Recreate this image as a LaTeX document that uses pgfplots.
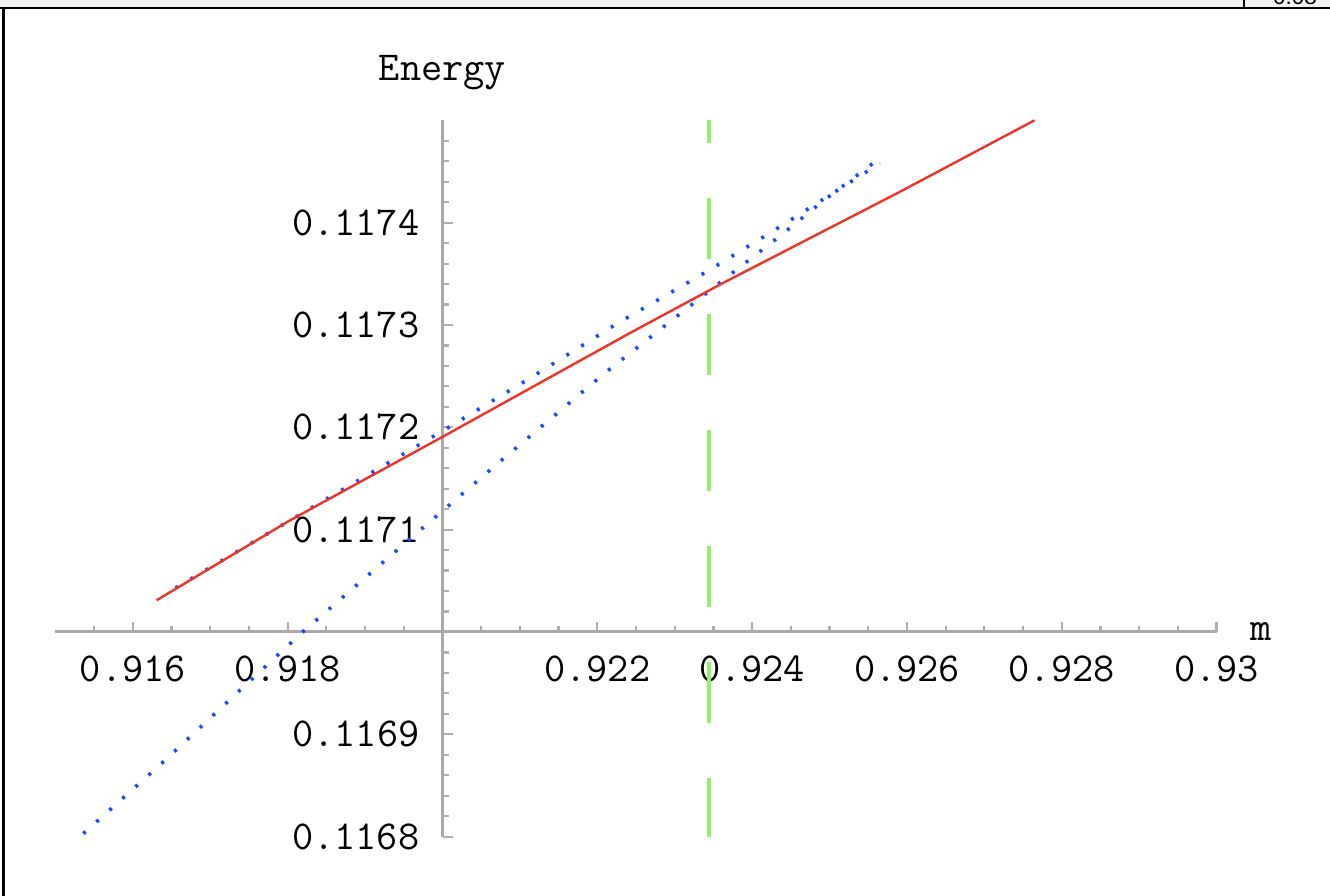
\documentclass[border=0pt]{standalone}
\usepackage{fontspec}
\newfontfamily\sansf{Liberation Sans}
\usepackage{pgfplots}
\pgfplotsset{compat=1.18}

\definecolor{curvered}{RGB}{240,50,40}
\definecolor{curveblue}{RGB}{25,75,255}
\definecolor{markgreen}{RGB}{150,238,110}
\definecolor{axisgray}{RGB}{170,170,170}
\definecolor{tickgray}{RGB}{175,175,175}

\newcommand{\labelfont}{\ttfamily\fontsize{11.7}{14}\selectfont}

\begin{document}
\begin{tikzpicture}
\useasboundingbox (0,0) rectangle (133mm,89.6mm);
% window frame around the notebook cell
\fill[black!5] (0,88.85mm) rectangle (133mm,89.6mm);
\draw[black, line width=0.22mm] (0,88.8mm) -- (133mm,88.8mm);
\draw[black, line width=0.22mm] (0.35mm,0) -- (0.35mm,88.8mm);
\draw[black, line width=0.15mm] (124.4mm,88.8mm) -- (124.4mm,89.6mm);
\begin{scope}
  \clip (124.5mm,88.9mm) rectangle (133mm,89.6mm);
  \node[font=\sansf\fontsize{6.4}{7}\selectfont, anchor=base, inner sep=0pt] at (129.5mm,89.1mm) {0.08};
\end{scope}

\begin{axis}[
  at={(5.545mm,5.934mm)}, anchor=south west,
  scale only axis, width=116.11mm, height=71.63mm,
  xmin=0.915, xmax=0.930, ymin=0.1168, ymax=0.1175,
  axis x line=bottom, axis y line=left,
  axis x line shift=-20.466mm, axis y line shift=-38.725mm,
  axis line style={-, draw=axisgray, line width=0.3mm},
  tick align=inside,
  major tick length=1mm, minor tick length=0.6mm,
  every tick/.style={draw=tickgray, line width=0.22mm},
  xtick={0.916,0.918,0.922,0.924,0.926,0.928,0.930},
  xticklabels={0.916,0.918,0.922,0.924,0.926,0.928,0.93},
  minor xtick={0.9155,0.9165,0.917,0.9175,0.9185,0.919,0.9195,0.9205,0.921,0.9215,
    0.9225,0.923,0.9235,0.9245,0.925,0.9255,0.9265,0.927,0.9275,0.9285,0.929,0.9295},
  ytick={0.1168,0.1169,0.1171,0.1172,0.1173,0.1174},
  yticklabels={0.1168,0.1169,0.1171,0.1172,0.1173,0.1174},
  minor ytick={0.11682,0.11684,0.11686,0.11688,0.11692,0.11694,0.11696,0.11698,
    0.11702,0.11704,0.11706,0.11708,0.11712,0.11714,0.11716,0.11718,
    0.11722,0.11724,0.11726,0.11728,0.11732,0.11734,0.11736,0.11738,
    0.11742,0.11744,0.11746,0.11748},
  ticklabel style={font=\labelfont, text=black},
  xticklabel shift=1.1mm, yticklabel shift=1.1mm,
  xlabel={m}, ylabel={Energy},
  every axis x label/.style={at={(axis description cs:1,0.285714)}, anchor=west,
    xshift=2.15mm, font=\labelfont},
  every axis y label/.style={at={(axis description cs:0.33333,1.0666)}, anchor=center,
    font=\labelfont},
  clip=false,
]
% first blue dotted curve
\addplot[curveblue, line width=0.36mm, dash pattern=on 0.3mm off 1.45mm] coordinates {
  (0.91655,0.117043) (0.91803,0.117109) (0.91997,0.117195) (0.92113,0.117248)
  (0.92227,0.117302) (0.92341,0.117352) (0.92436,0.117396) (0.92565,0.117458)};
% second blue dotted curve (steeper)
\addplot[curveblue, line width=0.36mm, dash pattern=on 0.3mm off 1.45mm] coordinates {
  (0.915360,0.116803) (0.916350,0.116870) (0.917340,0.116940) (0.918179,0.116999)
  (0.919535,0.117088) (0.920718,0.117165) (0.922096,0.117253) (0.923322,0.117326)
  (0.924377,0.117388) (0.924914,0.117421) (0.925649,0.117463)};
% red solid curve
\addplot[curvered, line width=0.24mm] coordinates {
  (0.916307,0.117031) (0.918028,0.117109) (0.920008,0.117191) (0.922418,0.117292)
  (0.923623,0.117341) (0.925905,0.117430) (0.927648,0.117500)};
% vertical dashed marker
\addplot[markgreen, line width=0.45mm, dash pattern=on 6.1mm off 5.5mm, dash phase=3.8mm] coordinates {
  (0.92344,0.1175) (0.92344,0.1168)};
\end{axis}
\end{tikzpicture}
\end{document}
